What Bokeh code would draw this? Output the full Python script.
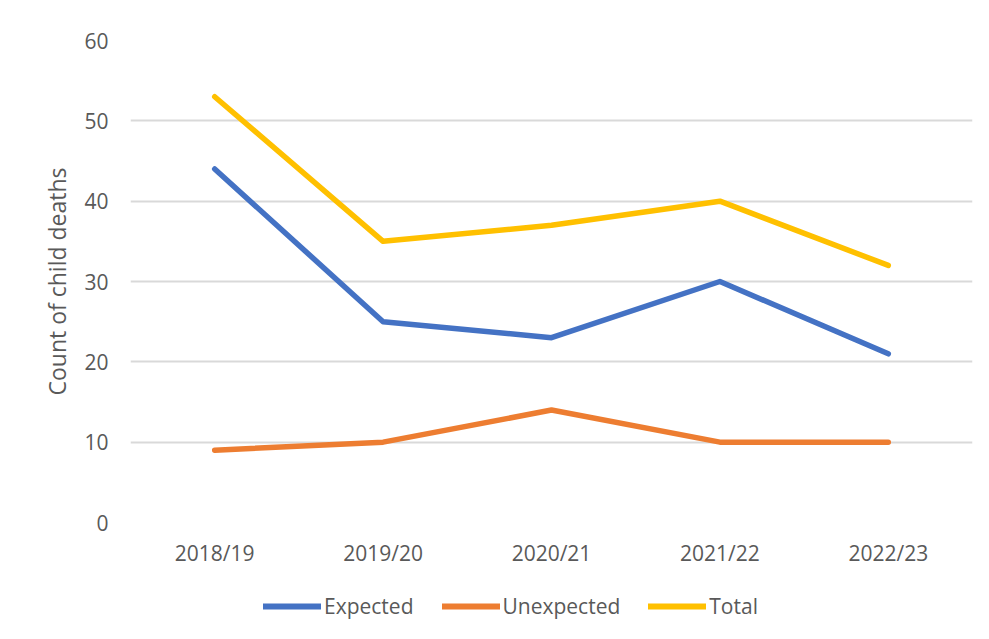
from bokeh.plotting import figure
from bokeh.layouts import column
from bokeh.models import Range1d, FactorRange, SingleIntervalTicker, Legend, LegendItem
from bokeh.embed import file_html
from bokeh.resources import INLINE

years = ["2018/19", "2019/20", "2020/21", "2021/22", "2022/23"]
expected = [44, 25, 23, 30, 21]
unexpected = [9, 10, 14, 10, 10]
total = [53, 35, 37, 40, 32]

series_names = ["Expected", "Unexpected", "Total"]
series_colors = ["#4472C4", "#ED7D31", "#FFC000"]
series_values = [expected, unexpected, total]

FONT = "Open Sans"
TXT = "#595959"

# ---- main chart ----
p = figure(
    frame_width=842, frame_height=482,
    x_range=FactorRange(*years),
    y_range=Range1d(0, 60),
    output_backend="svg", toolbar_location=None, tools="",
    min_border_left=130, min_border_right=17, min_border_top=40, min_border_bottom=63,
)
p.outline_line_color = None
p.background_fill_color = "white"
p.border_fill_color = "white"

for vals, col in zip(series_values, series_colors):
    p.line(years, vals, line_color=col, line_width=5.5, line_cap="round", line_join="round")

p.yaxis.ticker = SingleIntervalTicker(interval=10)
p.xgrid.grid_line_color = None
p.ygrid.grid_line_color = "#d9d9d9"
p.ygrid.grid_line_width = 2

for ax in (p.xaxis[0], p.yaxis[0]):
    ax.axis_line_color = None
    ax.major_tick_line_color = None
    ax.minor_tick_line_color = None
    ax.major_label_text_font = FONT
    ax.major_label_text_font_size = "21px"
    ax.major_label_text_color = TXT

p.xaxis.major_label_standoff = 10
p.yaxis.major_label_standoff = 16
p.yaxis.axis_label = "Count of child deaths"
p.yaxis.axis_label_text_font = FONT
p.yaxis.axis_label_text_font_size = "23px"
p.yaxis.axis_label_text_font_style = "normal"
p.yaxis.axis_label_text_color = TXT
p.yaxis.axis_label_standoff = 8

# ---- legend strip ----
lf = figure(
    width=989, height=54,
    x_range=FactorRange(*years), y_range=Range1d(0, 60),
    output_backend="svg", toolbar_location=None, tools="",
    x_axis_location=None, y_axis_location=None,
    min_border_left=0, min_border_right=0, min_border_top=0, min_border_bottom=0,
)
lf.outline_line_color = None
lf.grid.visible = False
lf.background_fill_color = "white"
lf.border_fill_color = "white"

leg_renderers = []
for vals, col in zip(series_values, series_colors):
    r = lf.line(years, vals, line_color=col, line_width=6, line_cap="round", visible=False)
    leg_renderers.append(r)

legend = Legend(
    items=[LegendItem(label=n, renderers=[r]) for n, r in zip(series_names, leg_renderers)],
    orientation="horizontal",
    location=(133, 19),
    glyph_width=58, glyph_height=20, label_standoff=3, spacing=28,
    padding=0, margin=0,
    border_line_color=None, background_fill_alpha=0,
    inactive_fill_alpha=0,
    label_text_font=FONT, label_text_font_size="21px", label_text_color=TXT,
    click_policy="none",
)
lf.add_layout(legend, "center")

layout = column(p, lf, spacing=0)
open("out.html", "w").write(file_html(layout, INLINE))
